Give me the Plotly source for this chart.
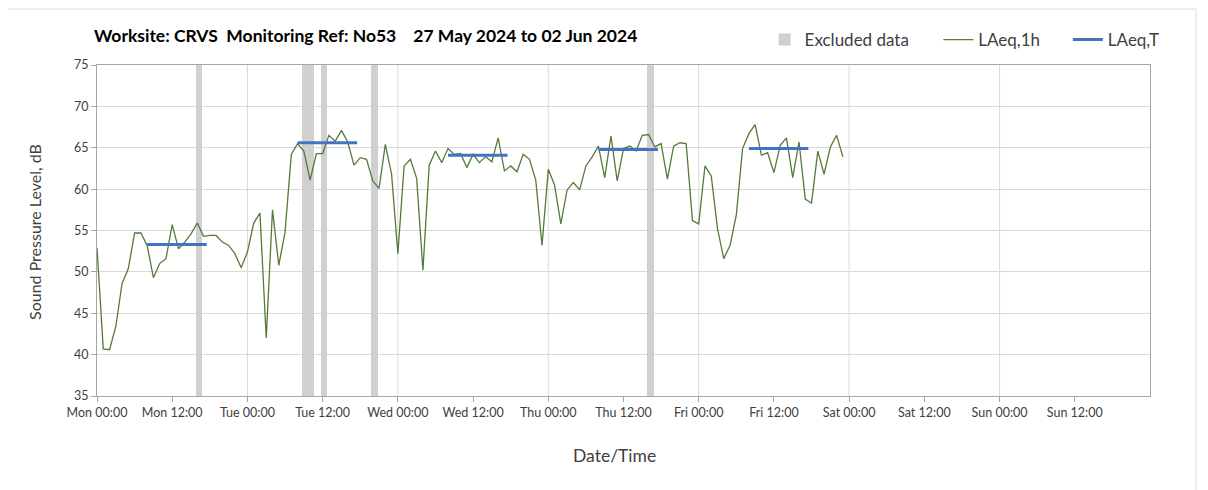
import datetime as dt
import plotly.graph_objects as go

# ---------------- data ----------------
start_time = dt.datetime(2024, 5, 27, 0, 0)  # Monday

# hourly LAeq,1h values from Mon 00:00 (index = hours since start)
laeq_1h = [
    52.9, 40.7, 40.6, 43.4, 48.6, 50.4, 54.7, 54.7, 53.2, 49.3,
    51.0, 51.6, 55.7, 52.8, 53.6, 54.6, 55.9, 54.3, 54.4, 54.4,
    53.6, 53.2, 52.2, 50.5, 52.4, 55.9, 57.1, 42.0, 57.5, 50.8,
    54.8, 64.2, 65.5, 64.6, 61.1, 64.3, 64.3, 66.5, 65.8, 67.1,
    65.7, 62.9, 63.8, 63.6, 61.0, 60.1, 65.4, 61.8, 52.2, 62.8,
    63.6, 61.3, 50.2, 62.9, 64.6, 63.2, 64.9, 64.2, 64.3, 62.6,
    64.2, 63.2, 63.9, 63.3, 66.2, 62.2, 62.8, 62.1, 64.2, 63.6,
    61.1, 53.2, 62.4, 60.5, 55.8, 59.9, 60.8, 59.9, 62.8, 63.9,
    65.2, 61.4, 66.4, 61.0, 64.9, 65.2, 64.6, 66.5, 66.6, 65.1,
    65.5, 61.2, 65.2, 65.6, 65.5, 56.2, 55.8, 62.8, 61.6, 55.2,
    51.6, 53.2, 56.9, 64.9, 66.7, 67.8, 64.1, 64.4, 62.0, 65.3,
    66.2, 61.4, 65.7, 58.8, 58.3, 64.6, 61.8, 65.1, 66.5, 63.9,
]

# LAeq,T periods: start / end (hours since start) and level
period_start_h = [8.0, 32.0, 56.0, 80.0, 104.0]
period_end_h = [17.5, 41.5, 65.5, 89.5, 113.5]
period_level = [53.3, 65.6, 64.1, 64.8, 64.9]

# Excluded data intervals (hours since start)
excl_start_h = [15.8, 32.7, 35.7, 43.7, 87.8]
excl_end_h = [16.7, 34.7, 36.7, 44.8, 88.8]

tick_labels = ["Mon 00:00", "Mon 12:00", "Tue 00:00", "Tue 12:00",
               "Wed 00:00", "Wed 12:00", "Thu 00:00", "Thu 12:00",
               "Fri 00:00", "Fri 12:00", "Sat 00:00", "Sat 12:00",
               "Sun 00:00", "Sun 12:00"]

# ---------------- build ----------------
def at(h):
    return start_time + dt.timedelta(hours=h)

x_hours = [at(i) for i in range(len(laeq_1h))]
tick_vals = [at(12 * i) for i in range(len(tick_labels))]
day_lines = [at(24 * d) for d in range(1, 7)]

FONT = "Lato"
TXT = "#404040"

fig = go.Figure()

# excluded data as full-height bars
fig.add_trace(go.Bar(
    x=[at((s + e) / 2) for s, e in zip(excl_start_h, excl_end_h)],
    y=[40] * len(excl_start_h),
    base=[35] * len(excl_start_h),
    width=[(e - s) * 3600 * 1000 for s, e in zip(excl_start_h, excl_end_h)],
    marker=dict(color="#D0D0D0", line=dict(width=0)),
    name="Excluded data",
    hoverinfo="skip",
    legend="legend",
))

fig.add_trace(go.Scatter(
    x=x_hours, y=laeq_1h, mode="lines",
    line=dict(color="#557A3A", width=1.3),
    name="LAeq,1h",
    legend="legend2",
))

px, py = [], []
for s, e, v in zip(period_start_h, period_end_h, period_level):
    px += [at(s), at(e), None]
    py += [v, v, None]
fig.add_trace(go.Scatter(
    x=px, y=py, mode="lines",
    line=dict(color="#4472C4", width=3),
    name="LAeq,T",
    connectgaps=False,
    legend="legend3",
))

for d in day_lines:
    fig.add_shape(type="line", xref="x", yref="paper", x0=d, x1=d, y0=0, y1=1,
                  line=dict(color="#D9D9D9", width=1), layer="below")

# outer frame
fig.add_shape(type="rect", xref="paper", yref="paper",
              x0=-0.0864, x1=1.0437, y0=-0.6, y1=1.169,
              line=dict(color="#D9D9D9", width=1), layer="below")

sp = "\u00a0"
title = ("Worksite: CRVS" + sp * 2 + "Monitoring Ref: No53" + sp * 4 +
         "27 May 2024 to 02 Jun 2024")

leg_common = dict(orientation="h", xanchor="left", y=1.0755, yanchor="middle",
                  font=dict(family=FONT, size=17, color=TXT),
                  bgcolor="rgba(0,0,0,0)")

fig.update_layout(
    width=1208, height=490,
    margin=dict(l=89, r=66, t=57, b=102),
    paper_bgcolor="white", plot_bgcolor="white",
    font=dict(family=FONT, color=TXT, size=12),
    title=dict(text="<b>" + title + "</b>", x=86 / 1208, xanchor="left",
               y=1 - 28 / 490, yanchor="middle",
               font=dict(family=FONT, size=17.5, color="#000000")),
    showlegend=True,
    legend=dict(x=0.634, **leg_common),
    legend2=dict(x=0.799, **leg_common),
    legend3=dict(x=0.922, **leg_common),
    bargap=0,
    annotations=[
        dict(text="Date/Time", xref="paper", yref="paper", x=0.491, y=-0.181,
             xanchor="center", yanchor="middle", showarrow=False,
             font=dict(family=FONT, size=17.5, color=TXT)),
        dict(text="Sound Pressure Level, dB", xref="paper", yref="paper",
             x=-0.0589, y=0.4955, xanchor="center", yanchor="middle",
             textangle=-90, showarrow=False,
             font=dict(family=FONT, size=16, color=TXT)),
    ],
)

fig.update_xaxes(
    range=[start_time, at(168)],
    tickvals=tick_vals, ticktext=tick_labels,
    showgrid=False, showline=True, linecolor="#A6A6A6", linewidth=1,
    mirror=True, ticks="outside", ticklen=5, tickcolor="#A6A6A6",
    tickfont=dict(family=FONT, size=12.5, color=TXT),
    zeroline=False,
)
fig.update_yaxes(
    range=[35, 75], dtick=5, tick0=35,
    showgrid=True, gridcolor="#D9D9D9", gridwidth=1,
    showline=True, linecolor="#A6A6A6", linewidth=1, mirror=True,
    ticks="outside", ticklen=5, tickcolor="#A6A6A6",
    tickfont=dict(family=FONT, size=12.5, color=TXT),
    zeroline=False,
)

fig.write_html("out.html")
